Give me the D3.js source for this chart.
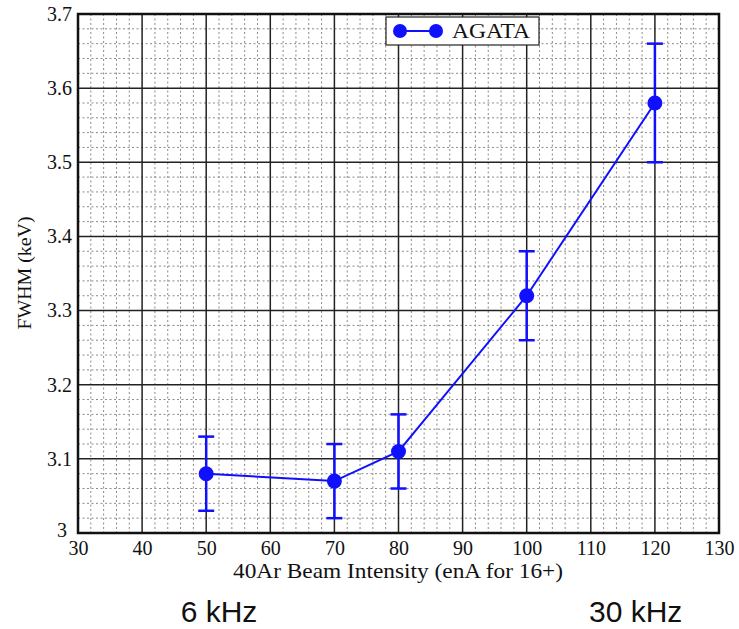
<!DOCTYPE html>
<html>
<head>
<meta charset="utf-8">
<script src="https://cdn.jsdelivr.net/npm/d3@7"></script>
<style>
  html, body { margin: 0; padding: 0; background: #fff; }
  svg { display: block; }
</style>
</head>
<body>
<svg id="chart" width="739" height="629"></svg>
<script>
// Beam intensity (enA for 16+) and measured FWHM (keV) with uncertainties
const intensity = [50, 70, 80, 100, 120];
const fwhm      = [3.08, 3.07, 3.11, 3.32, 3.58];
const fwhmErr   = [0.05, 0.05, 0.05, 0.06, 0.08];
const xTicks = [30, 40, 50, 60, 70, 80, 90, 100, 110, 120, 130];
const yTicks = [3, 3.1, 3.2, 3.3, 3.4, 3.5, 3.6, 3.7];
const seriesName = "AGATA";
const rateLabels = ["6 kHz", "30 kHz"];
const rateAt = [52, 117];

const svg = d3.select("#chart");
const m = { left: 78, right: 719, top: 14, bottom: 533 };
const blue = "#1010ff";
const serif = "'Liberation Serif', 'Times New Roman', serif";

const x = d3.scaleLinear().domain([30, 130]).range([m.left, m.right]);
const y = d3.scaleLinear().domain([3, 3.7]).range([m.bottom, m.top]);

// minor grid (5 subdivisions per major interval)
const minorX = d3.range(30, 130.001, 2).filter(v => v % 10 !== 0);
const minorY = d3.range(0, 35).map(i => 3 + i * 0.02).filter((v, i) => i % 5 !== 0);
const grid = svg.append("g");
grid.selectAll("line.mx").data(minorX).join("line")
  .attr("x1", d => x(d)).attr("x2", d => x(d))
  .attr("y1", m.top).attr("y2", m.bottom)
  .attr("stroke", "#8a8a8a").attr("stroke-width", 1)
  .attr("stroke-dasharray", "2,2.5");
grid.selectAll("line.my").data(minorY).join("line")
  .attr("y1", d => y(d)).attr("y2", d => y(d))
  .attr("x1", m.left).attr("x2", m.right)
  .attr("stroke", "#8a8a8a").attr("stroke-width", 1)
  .attr("stroke-dasharray", "2,2.5");

// major grid
grid.selectAll("line.Mx").data(xTicks).join("line")
  .attr("x1", d => x(d)).attr("x2", d => x(d))
  .attr("y1", m.top).attr("y2", m.bottom)
  .attr("stroke", "#222").attr("stroke-width", 1.5);
grid.selectAll("line.My").data(yTicks).join("line")
  .attr("y1", d => y(d)).attr("y2", d => y(d))
  .attr("x1", m.left).attr("x2", m.right)
  .attr("stroke", "#222").attr("stroke-width", 1.5);

// frame
svg.append("rect")
  .attr("x", m.left).attr("y", m.top)
  .attr("width", m.right - m.left).attr("height", m.bottom - m.top)
  .attr("fill", "none").attr("stroke", "#111").attr("stroke-width", 2.5);

// axes (labels only; frame drawn above)
const xAxis = svg.append("g").attr("transform", `translate(0,${m.bottom})`)
  .call(d3.axisBottom(x).tickValues(xTicks).tickSize(0).tickPadding(8).tickFormat(d3.format("d")));
xAxis.select(".domain").remove();
xAxis.attr("font-family", null).attr("font-size", null);
xAxis.selectAll("text").style("font-family", serif).style("font-size", "20px").attr("fill", "#111");

const yAxis = svg.append("g").attr("transform", `translate(${m.left},0)`)
  .call(d3.axisLeft(y).tickValues(yTicks).tickSize(0).tickPadding(6).tickFormat(d => d === 3 ? "3" : d3.format(".1f")(d)));
yAxis.select(".domain").remove();
yAxis.attr("font-family", null).attr("font-size", null);
yAxis.selectAll("text").style("font-family", serif).style("font-size", "20px").attr("fill", "#111");
// the origin label sits just up-left of the "30" below it
yAxis.selectAll(".tick").filter(d => d === 3).select("text").attr("x", -11).attr("dy", "0.15em");

// axis titles
svg.append("text")
  .attr("x", 398).attr("y", 578)
  .attr("text-anchor", "middle")
  .style("font-family", serif).style("font-size", "21px").attr("fill", "#111")
  .attr("textLength", 330).attr("lengthAdjust", "spacingAndGlyphs")
  .text("40Ar Beam Intensity (enA for 16+)");
svg.append("text")
  .attr("transform", `translate(31,${273}) rotate(-90)`)
  .attr("text-anchor", "middle")
  .style("font-family", serif).style("font-size", "19px").attr("fill", "#111")
  .attr("textLength", 113).attr("lengthAdjust", "spacingAndGlyphs")
  .text("FWHM (keV)");

// data
const pts = intensity.map((v, i) => ({ x: v, y: fwhm[i], e: fwhmErr[i] }));
const plot = svg.append("g");
plot.append("path").datum(pts)
  .attr("d", d3.line().x(d => x(d.x)).y(d => y(d.y)))
  .attr("fill", "none").attr("stroke", blue).attr("stroke-width", 2);

const eb = plot.selectAll("g.err").data(pts).join("g");
eb.append("line")
  .attr("x1", d => x(d.x)).attr("x2", d => x(d.x))
  .attr("y1", d => y(d.y - d.e)).attr("y2", d => y(d.y + d.e))
  .attr("stroke", blue).attr("stroke-width", 2.5);
eb.append("line")
  .attr("x1", d => x(d.x) - 8).attr("x2", d => x(d.x) + 8)
  .attr("y1", d => y(d.y + d.e)).attr("y2", d => y(d.y + d.e))
  .attr("stroke", blue).attr("stroke-width", 2.5);
eb.append("line")
  .attr("x1", d => x(d.x) - 8).attr("x2", d => x(d.x) + 8)
  .attr("y1", d => y(d.y - d.e)).attr("y2", d => y(d.y - d.e))
  .attr("stroke", blue).attr("stroke-width", 2.5);
plot.selectAll("circle").data(pts).join("circle")
  .attr("cx", d => x(d.x)).attr("cy", d => y(d.y)).attr("r", 7.5)
  .attr("fill", blue);

// legend
const lg = svg.append("g");
lg.append("rect").attr("x", 386).attr("y", 17).attr("width", 153).attr("height", 28)
  .attr("fill", "#fff").attr("stroke", "#222").attr("stroke-width", 1.2);
lg.append("line").attr("x1", 400).attr("x2", 436).attr("y1", 31).attr("y2", 31)
  .attr("stroke", blue).attr("stroke-width", 2);
lg.selectAll("circle").data([400, 436]).join("circle")
  .attr("cx", d => d).attr("cy", 31).attr("r", 7).attr("fill", blue);
lg.append("text").attr("x", 452).attr("y", 38)
  .style("font-family", serif).style("font-size", "20px").attr("fill", "#111")
  .attr("textLength", 78).attr("lengthAdjust", "spacingAndGlyphs")
  .text(seriesName);

// count-rate annotations below the axis
svg.selectAll("text.rate").data(rateLabels).join("text")
  .attr("x", (d, i) => x(rateAt[i])).attr("y", 622)
  .attr("text-anchor", "middle")
  .style("font-family", "'Liberation Sans', Arial, sans-serif").style("font-size", "30px").attr("fill", "#111")
  .text(d => d);
</script>
</body>
</html>
